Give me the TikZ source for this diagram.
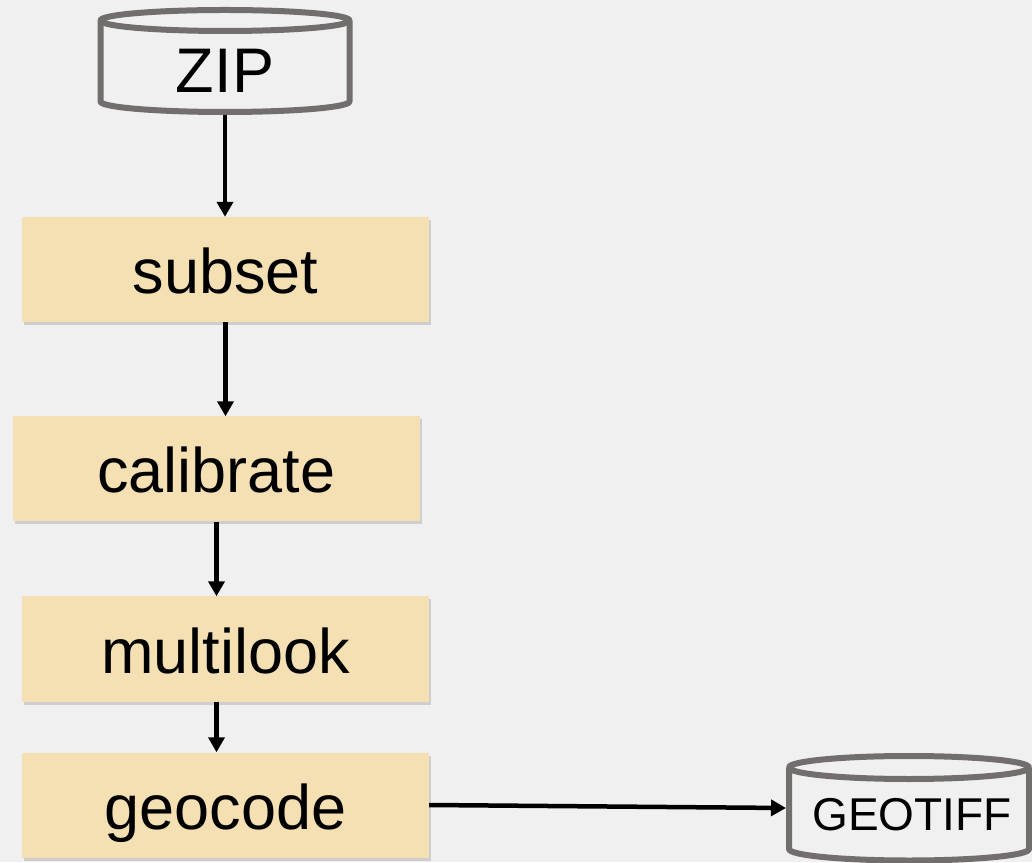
\documentclass[tikz,border=0pt]{standalone}
\usepackage{fontspec}
\setmainfont{Liberation Sans}
\usetikzlibrary{arrows.meta,shadows}
\definecolor{bggray}{RGB}{240,240,240}
\definecolor{boxtan}{RGB}{245,224,180}
\definecolor{dbgray}{RGB}{115,110,110}
\tikzstyle{block} = [rectangle, fill=boxtan, minimum width=407pt, minimum height=105pt, inner sep=0pt, text height=48pt, text depth=0pt, font=\fontsize{63pt}{70pt}\selectfont, drop shadow={shadow xshift=1.5pt, shadow yshift=-3pt, opacity=0.3}]
\tikzstyle{dbtext} = [inner sep=0pt, anchor=base]
\tikzstyle{dbline} = [draw=dbgray, line width=6pt, line join=round]
\tikzstyle{flow} = [-{Triangle[length=15pt,width=16pt]}, line width=4.5pt]

\begin{document}
\begin{tikzpicture}[x=1pt,y=1pt]
  \path[use as bounding box, fill=bggray] (0,0) rectangle (1032,862);
  % stores
  \node[dbtext, font=\fontsize{63pt}{70pt}\selectfont] (zip) at (225,769) {ZIP};
  \draw[dbline] ([yshift=72.5pt]zip.base) ellipse [x radius=124.5pt, y radius=10.5pt];
  \draw[dbline] ([shift={(-124.5pt,72.5pt)}]zip.base) -- ([shift={(-124.5pt,-8.5pt)}]zip.base)
    arc[start angle=180, end angle=360, x radius=124.5pt, y radius=10.5pt] -- ([shift={(124.5pt,72.5pt)}]zip.base);
  \coordinate (zipout) at ([yshift=-22pt]zip.base);
  \node[dbtext, font=\fontsize{46pt}{52pt}\selectfont] (tiff) at (912,32) {GEOTIFF};
  \draw[dbline] ([shift={(-3pt,62.5pt)}]tiff.base) ellipse [x radius=120pt, y radius=11.5pt];
  \draw[dbline] ([shift={(-123pt,62.5pt)}]tiff.base) -- ([shift={(-123pt,-19pt)}]tiff.base)
    arc[start angle=180, end angle=360, x radius=120pt, y radius=11.5pt] -- ([shift={(117pt,62.5pt)}]tiff.base);
  \coordinate (tiffin) at ([shift={(-126pt,22pt)}]tiff.base);
  % steps
  \node[block] (subset) at (225.5,592.5) {subset};
  \node[block] (calib) at (216.5,393) {calibrate};
  \node[block] (mlook) at (225.5,213) {multilook};
  \node[block] (geocode) at (225.5,57) {geocode};
  \draw[flow] (zipout) -- (zipout |- subset.north);
  \draw[flow] (subset.south) -- (subset.south |- calib.north);
  \draw[flow] (calib.south) -- (calib.south |- mlook.north);
  \draw[flow] (calib.south |- mlook.south) -- (calib.south |- geocode.north);
  \draw[flow] (geocode.east) -- (tiffin);
\end{tikzpicture}
\end{document}
